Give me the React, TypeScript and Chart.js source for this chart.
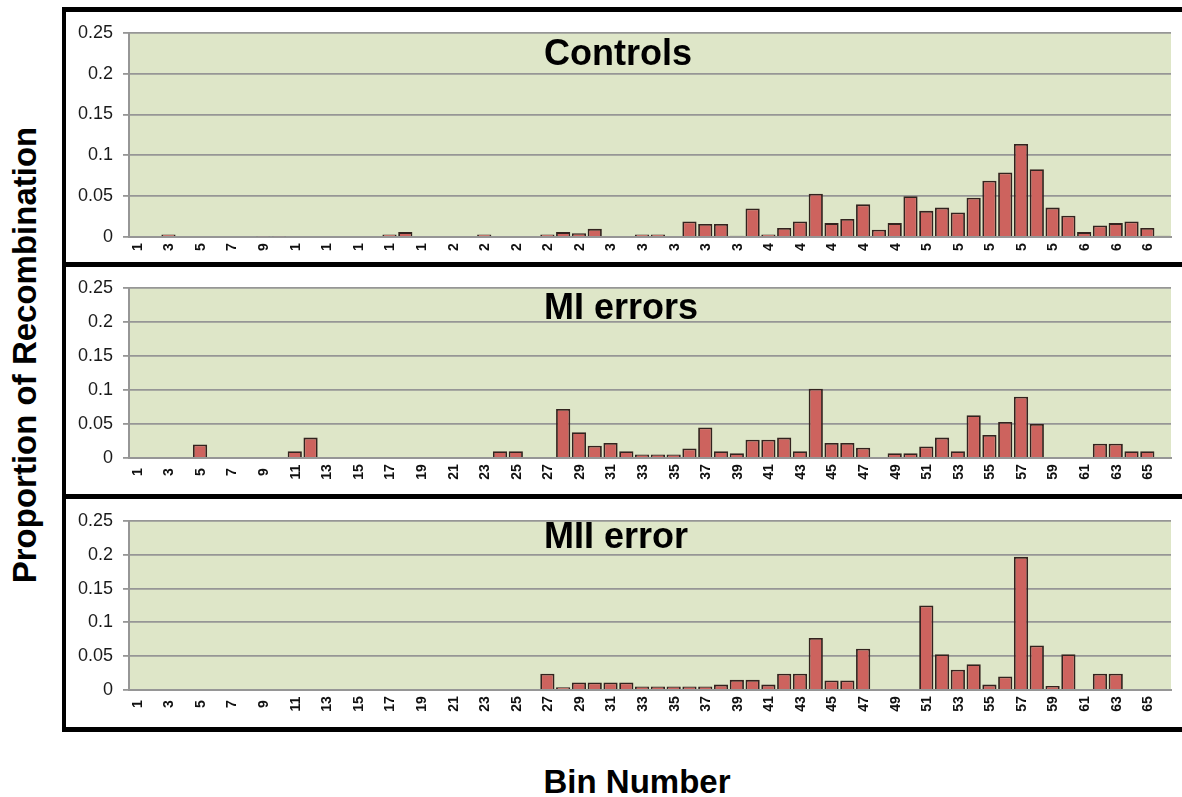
import React, { useEffect, useRef } from "react";
import { Chart, registerables } from "chart.js";

Chart.register(...registerables);

// ---------- data ----------
const binNumbers = [
  "1","2","3","4","5","6","7","8","9","10",
  "11","12","13","14","15","16","17","18","19","20",
  "21","22","23","24","25","26","27","28","29","30",
  "31","32","33","34","35","36","37","38","39","40",
  "41","42","43","44","45","46","47","48","49","50",
  "51","52","53","54","55","56","57","58","59","60",
  "61","62","63","64","65","66",
];

// tick labels shown under every second bin (the top panel shows truncated labels)
const controlsTickLabels = [
  "1","3","5","7","9","1","1","1","1","1","2","2","2","2","2","3","3",
  "3","3","3","4","4","4","4","4","5","5","5","5","5","6","6","6",
];
const errorTickLabels = [
  "1","3","5","7","9","11","13","15","17","19","21","23","25","27","29","31","33",
  "35","37","39","41","43","45","47","49","51","53","55","57","59","61","63","65",
];

const controls = [
  0, 0, 0.003, 0, 0, 0, 0, 0, 0.001, 0.001,
  0, 0, 0, 0, 0, 0, 0.003, 0.006, 0, 0,
  0, 0, 0.003, 0, 0, 0, 0.003, 0.006, 0.0045, 0.01,
  0, 0, 0.003, 0.003, 0, 0.019, 0.016, 0.016, 0.0015, 0.035,
  0.003, 0.011, 0.019, 0.053, 0.017, 0.022, 0.04, 0.009, 0.017, 0.05,
  0.032, 0.036, 0.03, 0.048, 0.069, 0.079, 0.114, 0.083, 0.036, 0.026,
  0.006, 0.014, 0.017, 0.019, 0.011, 0.0015,
];

const miErrors = [
  0, 0, 0, 0, 0.02, 0, 0, 0, 0, 0,
  0.01, 0.03, 0, 0, 0, 0, 0, 0, 0, 0,
  0, 0, 0, 0.01, 0.01, 0, 0, 0.072, 0.038, 0.018,
  0.022, 0.01, 0.005, 0.005, 0.005, 0.014, 0.045, 0.01, 0.007, 0.027,
  0.027, 0.03, 0.01, 0.102, 0.022, 0.022, 0.015, 0, 0.007, 0.007,
  0.017, 0.03, 0.01, 0.063, 0.034, 0.053, 0.09, 0.05, 0, 0,
  0, 0.021, 0.021, 0.01, 0.01, 0,
];

const miiError = [
  0, 0, 0, 0, 0, 0, 0, 0, 0, 0,
  0, 0, 0, 0, 0, 0, 0, 0, 0, 0,
  0, 0, 0, 0, 0, 0, 0.024, 0.004, 0.011, 0.011,
  0.011, 0.011, 0.005, 0.005, 0.005, 0.005, 0.005, 0.008, 0.015, 0.015,
  0.008, 0.024, 0.024, 0.077, 0.014, 0.014, 0.061, 0, 0, 0,
  0.125, 0.053, 0.03, 0.038, 0.008, 0.02, 0.197, 0.066, 0.006, 0.053,
  0, 0.024, 0.024, 0, 0, 0,
];

const yTickValues = [0, 0.05, 0.1, 0.15, 0.2, 0.25];
const yTickLabels = ["0", "0.05", "0.1", "0.15", "0.2", "0.25"];

const panelTitles = ["Controls", "MI errors", "MII error"];
const yAxisTitle = "Proportion of Recombination";
const xAxisTitle = "Bin Number";

// ---------- style ----------
const FONT = '"Liberation Sans", Arial, Helvetica, sans-serif';
const PLOT_BG = "#dee6c8";
const GRID = "#969696";
const BAR_FILL = "#cd635e";
const BAR_EDGE = "#33231f";

type PanelProps = {
  values: number[];
  title: string;
  tickLabels: string[];
  left: number;
  top: number;
  width: number;
  height: number;
  plotTop: number;
  xAxisHeight: number;
  titleBaseline: number;
  labelOffset: number;
};

function Panel(p: PanelProps) {
  const ref = useRef<HTMLCanvasElement>(null);

  useEffect(() => {
    const canvas = ref.current;
    if (!canvas) return;

    const bgPlugin = {
      id: "plotBg",
      beforeDraw(chart: any) {
        const { ctx, chartArea: a } = chart;
        ctx.save();
        ctx.fillStyle = PLOT_BG;
        ctx.fillRect(a.left, a.top, a.right - a.left, a.bottom - a.top);
        ctx.restore();
      },
    };

    const overlayPlugin = {
      id: "overlay",
      afterDraw(chart: any) {
        const { ctx, chartArea: a } = chart;
        const xs = chart.scales.x;
        ctx.save();
        ctx.fillStyle = "#111";
        ctx.font = `bold 14px ${FONT}`;
        p.tickLabels.forEach((lab, k) => {
          const x = xs.getPixelForValue(2 * k);
          ctx.save();
          ctx.translate(x + 1, a.bottom + p.labelOffset);
          ctx.rotate(-Math.PI / 2);
          ctx.textAlign = "center";
          ctx.textBaseline = "middle";
          ctx.fillText(lab, 0, 0);
          ctx.restore();
        });
        ctx.fillStyle = "#000";
        ctx.font = `bold 36px ${FONT}`;
        ctx.textAlign = "left";
        ctx.textBaseline = "alphabetic";
        ctx.fillText(p.title, a.left + 415, p.titleBaseline);
        ctx.restore();
      },
    };

    const chart = new Chart(canvas, {
      type: "bar",
      data: {
        labels: binNumbers,
        datasets: [
          {
            data: p.values,
            backgroundColor: BAR_FILL,
            borderColor: BAR_EDGE,
            borderWidth: 1.8,
            categoryPercentage: 1,
            barPercentage: 0.9,
          },
        ],
      },
      options: {
        responsive: false,
        animation: false,
        events: [],
        layout: { padding: { top: p.plotTop, right: 11, left: 0, bottom: 0 } },
        plugins: {
          legend: { display: false },
          tooltip: { enabled: false },
          title: { display: false },
        },
        scales: {
          x: {
            grid: { display: false, drawTicks: false },
            border: { display: true, color: GRID, width: 2 },
            ticks: { display: false },
            afterFit(s: any) {
              s.height = p.xAxisHeight;
            },
          },
          y: {
            min: 0,
            max: 0.25,
            afterBuildTicks(s: any) {
              s.ticks = yTickValues.map((v) => ({ value: v }));
            },
            ticks: {
              callback: (_v: any, i: number) => yTickLabels[i],
              font: { family: FONT, size: 18 },
              color: "#1a1a1a",
              padding: 10,
            },
            grid: { color: GRID, lineWidth: 1.8, tickLength: 6, drawTicks: true },
            border: { display: true, color: GRID, width: 2 },
            afterFit(s: any) {
              s.width = 63;
            },
          },
        },
      },
      plugins: [bgPlugin, overlayPlugin],
    } as any);

    return () => chart.destroy();
  }, []);

  return (
    <canvas
      ref={ref}
      width={p.width}
      height={p.height}
      style={{ position: "absolute", left: p.left, top: p.top, width: p.width, height: p.height }}
    />
  );
}

const blackBar = (left: number, top: number, width: number, height: number) => ({
  position: "absolute" as const,
  left,
  top,
  width,
  height,
  background: "#000",
});

export default function App() {
  return (
    <div
      style={{
        position: "absolute",
        left: 0,
        top: 0,
        width: 1182,
        height: 797,
        background: "#fff",
        overflow: "hidden",
      }}
    >
      <Panel values={controls} title={panelTitles[0]} tickLabels={controlsTickLabels}
        left={66} top={12} width={1116} height={250}
        plotTop={16} xAxisHeight={25} titleBaseline={53} labelOffset={10} />
      <Panel values={miErrors} title={panelTitles[1]} tickLabels={errorTickLabels}
        left={66} top={267} width={1116} height={227}
        plotTop={21} xAxisHeight={36} titleBaseline={52} labelOffset={14} />
      <Panel values={miiError} title={panelTitles[2]} tickLabels={errorTickLabels}
        left={66} top={499} width={1116} height={228}
        plotTop={22} xAxisHeight={37} titleBaseline={49} labelOffset={14} />

      <div style={blackBar(62, 7, 1120, 5)} />
      <div style={blackBar(62, 262, 1120, 5)} />
      <div style={blackBar(62, 494, 1120, 5)} />
      <div style={blackBar(62, 727, 1120, 5)} />
      <div style={blackBar(62, 7, 4, 725)} />

      <div
        style={{
          position: "absolute",
          left: 24,
          top: 355,
          transform: "translate(-50%, -50%) rotate(-90deg)",
          whiteSpace: "nowrap",
          font: `bold 33px ${FONT}`,
          lineHeight: "1",
          color: "#000",
        }}
      >
        {yAxisTitle}
      </div>
      <div
        style={{
          position: "absolute",
          left: 637,
          top: 781,
          transform: "translate(-50%, -50%)",
          whiteSpace: "nowrap",
          font: `bold 33px ${FONT}`,
          lineHeight: "1",
          color: "#000",
        }}
      >
        {xAxisTitle}
      </div>
    </div>
  );
}
